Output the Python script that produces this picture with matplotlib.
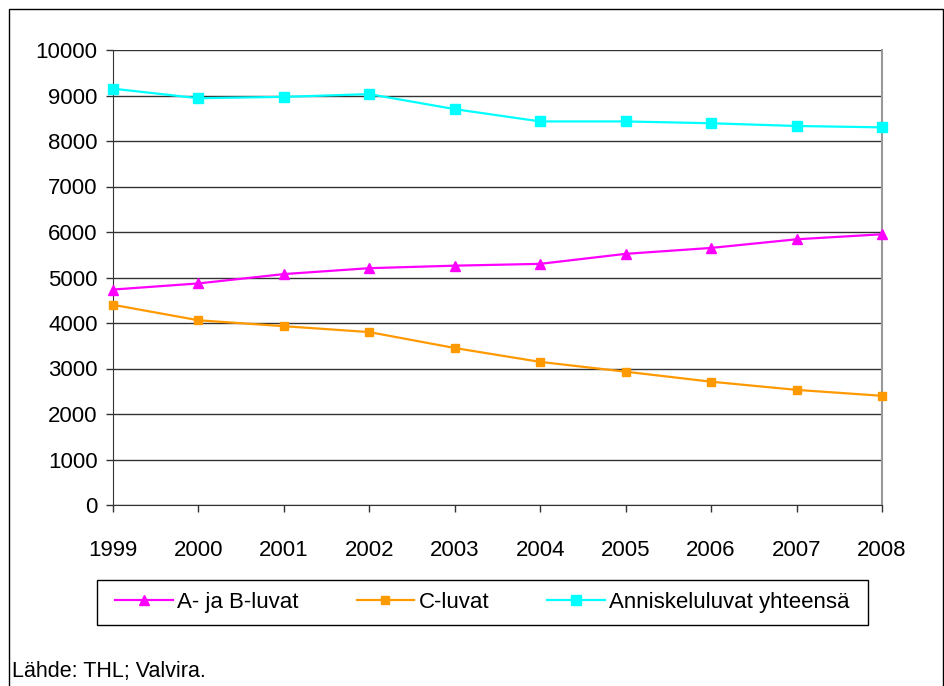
import matplotlib
matplotlib.use("Agg")
import matplotlib.pyplot as plt
from matplotlib.patches import Rectangle

plt.rcParams['font.family'] = ['Liberation Sans', 'DejaVu Sans']

years = [1999, 2000, 2001, 2002, 2003, 2004, 2005, 2006, 2007, 2008]
ab_luvat = [4735, 4870, 5075, 5205, 5260, 5300, 5520, 5650, 5840, 5950]
c_luvat = [4400, 4060, 3930, 3800, 3450, 3145, 2930, 2710, 2530, 2400]
yhteensa = [9150, 8940, 8970, 9030, 8700, 8430, 8430, 8390, 8330, 8300]

W, H = 945, 686
fig = plt.figure(figsize=(W / 100, H / 100), dpi=100)

# plot area in pixel terms
left, right, top, bottom = 113, 882, 50, 505
ax = fig.add_axes([left / W, (H - bottom) / H, (right - left) / W, (bottom - top) / H])

ax.plot(years, ab_luvat, color='#FF00FF', lw=1.6, marker='^', ms=7, label='A- ja B-luvat', clip_on=False, zorder=3)
ax.plot(years, c_luvat, color='#FF9900', lw=1.6, marker='s', ms=5.5, label='C-luvat', clip_on=False, zorder=3)
ax.plot(years, yhteensa, color='#00FFFF', lw=1.6, marker='s', ms=7, label='Anniskeluluvat yhteensä', clip_on=False, zorder=3)

ax.set_xlim(1999, 2008)
ax.set_ylim(0, 10000)
ax.set_yticks(range(0, 10001, 1000))
ax.set_xticks(years)
ax.yaxis.grid(True, color='#333333', lw=1)
ax.set_axisbelow(True)
ax.tick_params(axis='both', direction='out', length=5, width=1, color='#333333', labelsize=16, pad=6)
ax.tick_params(axis='x', pad=20)

ax.spines['top'].set_visible(False)
ax.spines['left'].set_color('#333333')
ax.spines['bottom'].set_color('#333333')
ax.spines['right'].set_color('#999999')
ax.spines['right'].set_linewidth(1.5)

# legend box
lx0, lx1, ly0, ly1 = 97, 868, 580, 625
fig.patches.append(Rectangle((lx0 / W, (H - ly1) / H), (lx1 - lx0) / W, (ly1 - ly0) / H,
                             transform=fig.transFigure, fill=False, edgecolor='black', lw=1))
fig.legend(loc='center', ncol=3,
           bbox_to_anchor=((lx0 + lx1) / 2 / W, (H - (ly0 + ly1) / 2) / H),
           fontsize=16, frameon=False, handlelength=2.6, handletextpad=0.2,
           columnspacing=2.6, borderaxespad=0)

# outer frame of the chart
fig.patches.append(Rectangle((9 / W, -0.1), (943 - 9) / W, (H - 9) / H + 0.1,
                             transform=fig.transFigure, fill=False, edgecolor='black', lw=1))

fig.text(12 / W, (H - 672) / H, 'Lähde: THL; Valvira.', fontsize=15.5, va='center', ha='left')

fig.savefig('out.png', dpi=100)
